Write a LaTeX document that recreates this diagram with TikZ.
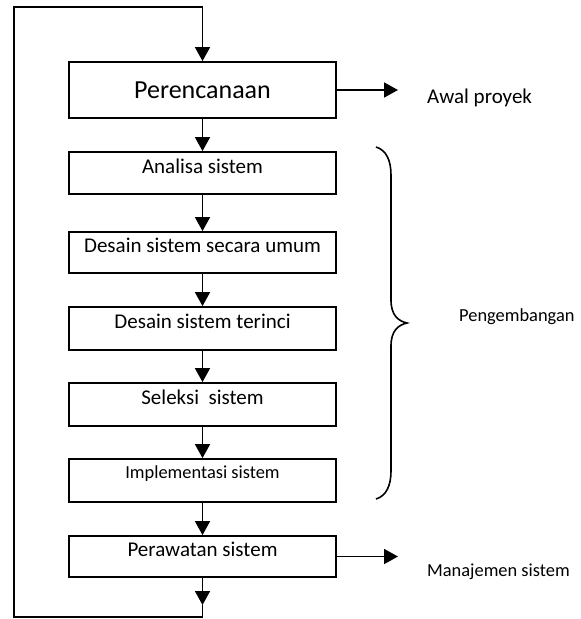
\documentclass[tikz,border=0pt]{standalone}
\usepackage{fontspec}
\setmainfont{Carlito}
\usetikzlibrary{arrows.meta}
\begin{document}
\begin{tikzpicture}[x=1pt,y=-1pt,
  box/.style={draw, line width=1.8pt, inner sep=0pt, minimum width=267pt},
  smallbox/.style={box, font=\fontsize{21}{21}\selectfont, text height=13.5pt, text depth=13pt},
  conn/.style={line width=1.8pt, -{Triangle[width=15pt,length=14pt]}},
  plain/.style={line width=1.8pt},
  lbl/.style={anchor=base west, inner sep=0pt}]
\useasboundingbox (0,0) rectangle (581,619);
\node[box, minimum height=56pt, font=\fontsize{26}{26}\selectfont, text height=16.7pt, text depth=0pt] (p) at (202.5,90) {Perencanaan};
\node[smallbox, minimum height=42pt] (a) at (202.5,173) {Analisa sistem};
\node[smallbox, minimum height=41pt] (u) at (202.5,252.5) {Desain sistem secara umum};
\node[smallbox, minimum height=43pt] (t) at (202.5,328.5) {Desain sistem terinci};
\node[smallbox, minimum height=43pt] (s) at (202.5,404.5) {Seleksi\ \ sistem};
\node[box, minimum height=43pt, font=\fontsize{18.4}{18.4}\selectfont, text height=11.85pt, text depth=15pt] (i) at (202.5,480.5) {Implementasi sistem};
\node[smallbox, minimum height=41pt] (w) at (202.5,556.5) {Perawatan sistem};
\draw[conn] (p) -- (a);
\draw[conn] (a) -- (u);
\draw[conn] (u) -- (t);
\draw[conn] (t) -- (s);
\draw[conn] (s) -- (i);
\draw[conn] (i) -- (w);
% loop
\coordinate (lb) at (202.5,605);
\coordinate (lc) at (202.5,617);
\coordinate (ll) at (14,617);
\coordinate (lt) at (14,7);
\coordinate (ltr) at (202.5,7);
\draw[conn] (w) -- (lb);
\draw[plain, line join=miter] (lb) -- (lc) -- (ll) -- (lt) -- (ltr);
\draw[conn] (ltr) -- (p);
% right arrows
\coordinate (ea) at (398,90);
\coordinate (em) at (398,556.5);
\draw[conn] (p.east) -- (ea);
\draw[conn] (w.east) -- (em);
\node[lbl, font=\fontsize{21}{21}\selectfont] (awal) at (427,103) {Awal proyek};
\node[lbl, font=\fontsize{18.4}{18.4}\selectfont] (man) at (427,576) {Manajemen sistem};
\node[lbl, font=\fontsize{18.4}{18.4}\selectfont] (peng) at (459,321) {Pengembangan};
% brace
\draw[line width=1.6pt] (376,147) .. controls (386,150) and (391,160) .. (391,175) -- (391,300) .. controls (391,315) and (398,321) .. (407,323) .. controls (398,325) and (391,331) .. (391,346) -- (391,471) .. controls (391,486) and (386,496) .. (376,499);
\end{tikzpicture}
\end{document}
